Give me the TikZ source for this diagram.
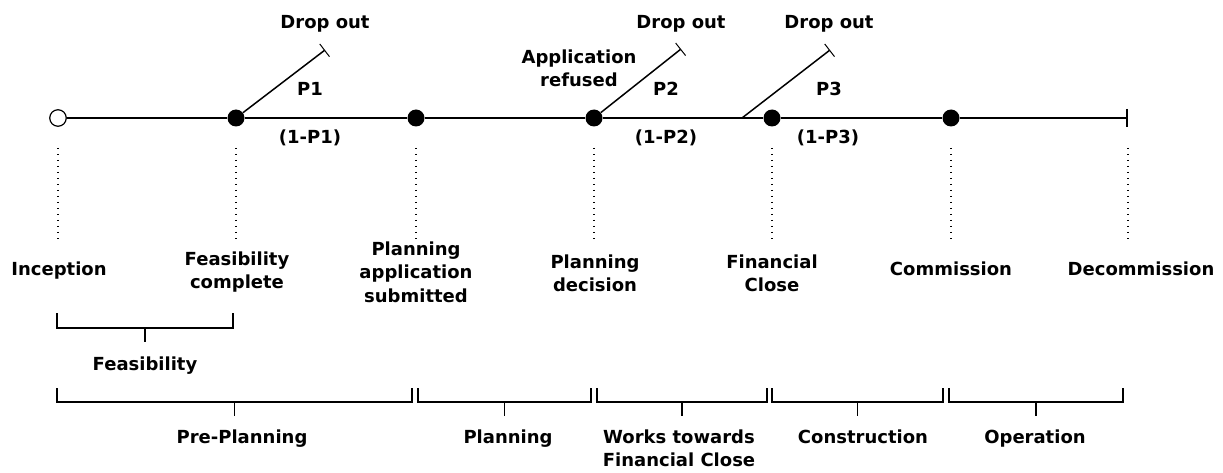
\documentclass[tikz,border=0pt]{standalone}
\usepackage{fontspec}
\setmainfont{DejaVu Sans}
\usetikzlibrary{arrows.meta}
\begin{document}
\begin{tikzpicture}[x=1pt,y=-1pt,
  lbl/.style={font=\fontsize{18}{23.5}\selectfont\bfseries, inner sep=0pt, align=center},
  milestone/.style={circle, fill=black, minimum size=17pt, inner sep=0pt},
  startpt/.style={circle, draw=black, fill=white, line width=1.2pt, minimum size=16.5pt, inner sep=0pt},
  mainline/.style={line width=1.6pt},
  dropline/.style={line width=1.5pt, -{Bar[width=16pt,line width=1pt]}},
  endline/.style={line width=1.6pt, -{Bar[width=18pt,line width=1.6pt]}},
  guide/.style={line width=1.4pt, dash pattern=on 1.2pt off 4.8pt},
  brk/.style={line width=1.8pt},
]
\fill[white] (0,0) rectangle (1223,473);
\useasboundingbox (0,0) rectangle (1223,473);

% milestones
\node[startpt]   (p0) at (58,118) {};
\node[milestone] (p1) at (236,118) {};
\node[milestone] (p2) at (416,118) {};
\node[milestone] (p3) at (594,118) {};
\node[milestone] (p4) at (772,118) {};
\node[milestone] (p5) at (951,118) {};
\coordinate (e)  at (1128,118);
\coordinate (s3) at (742,118);
\coordinate (d1) at (325,50);
\coordinate (d2) at (681,49);
\coordinate (d3) at (830,50);

% main line
\draw[mainline] (p0) -- (p1);
\draw[mainline] (p1) -- (p2);
\draw[mainline] (p2) -- (p3);
\draw[mainline] (p3) -- (p4);
\draw[mainline] (p4) -- (p5);
\draw[endline] (p5) -- (e);

% drop-out branches
\draw[dropline] (p1) -- (d1);
\draw[dropline] (p3) -- (d2);
\draw[dropline] (s3) -- (d3);

% upper labels
\node[lbl, anchor=base] (do1) at (325,28.5) {Drop out};
\node[lbl, anchor=base] (do2) at (681,28.5) {Drop out};
\node[lbl, anchor=base] (do3) at (829,28.5) {Drop out};
\node[lbl, anchor=north] (ar) at (579,49.3) {Application\\refused};
\node[lbl, anchor=base] (q1) at (310,96) {P1};
\node[lbl, anchor=base] (q2) at (666,96) {P2};
\node[lbl, anchor=base] (q3) at (829,96) {P3};
\node[lbl, anchor=base] (r1) at (310,144) {(1-P1)};
\node[lbl, anchor=base] (r2) at (666,144) {(1-P2)};
\node[lbl, anchor=base] (r3) at (828,144) {(1-P3)};

% dotted guides
\foreach \gx in {58,236,416,594,772,951,1128}
  \draw[guide] (\gx,148) -- (\gx,242);

% milestone labels
\node[lbl, anchor=base]  (l0) at (59,275)    {Inception};
\node[lbl, anchor=north] (l1) at (237,251.3) {Feasibility\\complete};
\node[lbl, anchor=north] (l2) at (416,241.3) {Planning\\application\\submitted};
\node[lbl, anchor=north] (l3) at (595,254.3) {Planning\\decision};
\node[lbl, anchor=north] (l4) at (772,254.3) {Financial\\Close};
\node[lbl, anchor=base]  (l5) at (951,275)   {Commission};
\node[lbl, anchor=base]  (l6) at (1141,275)  {Decommission};

% brackets
\draw[brk] (57,313) -- (57,328) -- (233,328) -- (233,313);
\draw[brk] (145,328) -- (145,342);
\node[lbl, anchor=base] (b0) at (145,370) {Feasibility};

\draw[brk] (57,388) -- (57,402) -- (412,402) -- (412,388);
\draw[brk] (234.5,402) -- (234.5,416);
\node[lbl, anchor=base] (b1) at (242,443) {Pre-Planning};

\draw[brk] (418,388) -- (418,402) -- (591,402) -- (591,388);
\draw[brk] (504.5,402) -- (504.5,416);
\node[lbl, anchor=base] (b2) at (508,443) {Planning};

\draw[brk] (597,388) -- (597,402) -- (767,402) -- (767,388);
\draw[brk] (682,402) -- (682,416);
\node[lbl, anchor=north] (b3) at (679,429.3) {Works towards\\Financial Close};

\draw[brk] (772,388) -- (772,402) -- (943,402) -- (943,388);
\draw[brk] (857.5,402) -- (857.5,416);
\node[lbl, anchor=base] (b4) at (863,443) {Construction};

\draw[brk] (949,388) -- (949,402) -- (1123,402) -- (1123,388);
\draw[brk] (1036,402) -- (1036,416);
\node[lbl, anchor=base] (b5) at (1035,443) {Operation};
\end{tikzpicture}
\end{document}
